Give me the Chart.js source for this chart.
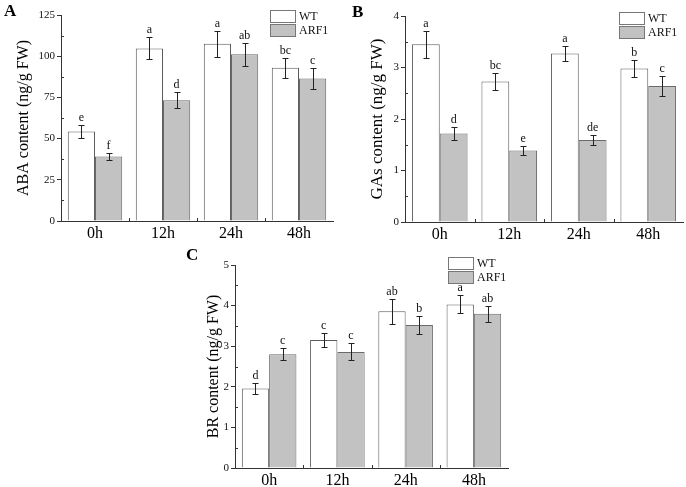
<!DOCTYPE html>
<html lang="pt-BR">
<head>
<meta charset="utf-8">
<title>Conteúdo hormonal WT x ARF1</title>
<script src="https://cdn.jsdelivr.net/npm/chart.js@4.4.1/dist/chart.umd.min.js"></script>
<style>
  body { margin: 0; background: #fff; width: 686px; height: 487px; overflow: hidden; position: relative; }
  canvas { position: absolute; }
  #graficoA { left: 0; top: 0; }
  #graficoB { left: 340px; top: 0; }
  #graficoC { left: 150px; top: 235px; }
  .painel { position: absolute; font: bold 17px "Liberation Serif", "Times New Roman", serif; color: #000; }
</style>
</head>
<body>
<canvas id="graficoA" width="340" height="245"></canvas>
<canvas id="graficoB" width="346" height="245"></canvas>
<canvas id="graficoC" width="370" height="260"></canvas>
<div class="painel" style="left:4px; top:1px;">A</div>
<div class="painel" style="left:352px; top:2px;">B</div>
<div class="painel" style="left:186px; top:245px;">C</div>
<script>
// --- DADOS ---
const horas = ['0h', '12h', '24h', '48h'];
const series = ['WT', 'ARF1'];

// ABA (ng/g FW)
const abaWT = [54.3, 104.7, 107.6, 93.0];
const abaARF1 = [39.2, 73.3, 101.2, 86.5];
const abaErroWT = [3.8, 6.7, 7.9, 6.1];
const abaErroARF1 = [2.1, 4.9, 6.9, 6.6];
const abaLetrasWT = ['e', 'a', 'a', 'bc'];
const abaLetrasARF1 = ['f', 'd', 'ab', 'c'];
const abaTicks = [0, 25, 50, 75, 100, 125];

// GAs (ng/g FW)
const gaWT = [3.45, 2.73, 3.27, 2.98];
const gaARF1 = [1.72, 1.39, 1.59, 2.64];
const gaErroWT = [0.26, 0.17, 0.15, 0.16];
const gaErroARF1 = [0.12, 0.09, 0.09, 0.19];
const gaLetrasWT = ['a', 'bc', 'a', 'b'];
const gaLetrasARF1 = ['d', 'e', 'de', 'c'];
const gaTicks = [0, 1, 2, 3, 4];

// BR (ng/g FW)
const brWT = [1.96, 3.15, 3.86, 4.03];
const brARF1 = [2.80, 2.86, 3.52, 3.80];
const brErroWT = [0.14, 0.18, 0.31, 0.22];
const brErroARF1 = [0.15, 0.21, 0.22, 0.20];
const brLetrasWT = ['d', 'c', 'ab', 'a'];
const brLetrasARF1 = ['c', 'c', 'b', 'ab'];
const brTicks = [0, 1, 2, 3, 4, 5];

const FONTE = '"Liberation Serif", "Times New Roman", serif';
const COR_EIXO = '#333';

// Barras de erro, letras de significância, ticks menores e legenda
const pluginExtras = {
  id: 'extras',
  afterDatasetsDraw(chart, args, opts) {
    const { ctx, chartArea, scales: { x, y } } = chart;
    ctx.save();
    ctx.strokeStyle = '#222';
    ctx.lineWidth = 1;
    ctx.fillStyle = '#111';
    ctx.font = '12px ' + FONTE;
    ctx.textAlign = 'center';
    ctx.textBaseline = 'bottom';
    chart.data.datasets.forEach((ds, i) => {
      chart.getDatasetMeta(i).data.forEach((barra, j) => {
        const v = ds.data[j], e = ds.erros[j];
        const yTopo = Math.round(y.getPixelForValue(v + e)) + 0.5;
        const yBase = Math.round(y.getPixelForValue(v - e)) + 0.5;
        const xc = Math.round(barra.x) + 0.5;
        ctx.beginPath();
        ctx.moveTo(xc, yTopo); ctx.lineTo(xc, yBase);
        ctx.moveTo(xc - 3, yTopo); ctx.lineTo(xc + 3, yTopo);
        ctx.moveTo(xc - 3, yBase); ctx.lineTo(xc + 3, yBase);
        ctx.stroke();
        ctx.fillText(ds.letras[j], barra.x, yTopo - 2);
      });
    });

    // ticks menores do eixo y (para dentro)
    ctx.strokeStyle = COR_EIXO;
    const passo = opts.passo / 2;
    for (let v = y.min + passo; v < y.max; v += opts.passo) {
      const py = Math.round(y.getPixelForValue(v)) + 0.5;
      ctx.beginPath();
      ctx.moveTo(chartArea.left, py); ctx.lineTo(chartArea.left + 3, py);
      ctx.stroke();
    }
    // ticks entre categorias no eixo x
    for (let i = 1; i < horas.length; i++) {
      const px = Math.round((x.getPixelForValue(i - 1) + x.getPixelForValue(i)) / 2) + 0.5;
      ctx.beginPath();
      ctx.moveTo(px, chartArea.bottom); ctx.lineTo(px, chartArea.bottom - 3);
      ctx.stroke();
    }

    // legenda
    ctx.font = '12px ' + FONTE;
    ctx.textAlign = 'left';
    ctx.textBaseline = 'middle';
    chart.data.datasets.forEach((ds, i) => {
      const lx = chartArea.right + opts.legX;
      const ly = chartArea.top + opts.legY + i * 14;
      ctx.fillStyle = ds.backgroundColor;
      ctx.fillRect(lx + 0.5, ly + 0.5, 25, 12);
      ctx.strokeStyle = '#777';
      ctx.strokeRect(lx + 0.5, ly + 0.5, 25, 12);
      ctx.fillStyle = '#111';
      ctx.fillText(ds.label, lx + 29, ly + 7);
    });
    ctx.restore();
  }
};

function criarGrafico(canvasId, cfg) {
  const ctx = document.getElementById(canvasId);
  return new Chart(ctx, {
    type: 'bar',
    data: {
      labels: horas,
      datasets: [
        { label: series[0], data: cfg.wt, erros: cfg.erroWT, letras: cfg.letrasWT,
          backgroundColor: '#ffffff', borderColor: '#5c5c5c', borderWidth: 1,
          categoryPercentage: 0.8, barPercentage: 1 },
        { label: series[1], data: cfg.arf1, erros: cfg.erroARF1, letras: cfg.letrasARF1,
          backgroundColor: '#c2c2c2', borderColor: '#6a6a6a', borderWidth: 1,
          categoryPercentage: 0.8, barPercentage: 1 }
      ]
    },
    options: {
      responsive: false,
      animation: false,
      layout: { padding: cfg.padding },
      plugins: {
        legend: { display: false },
        tooltip: { enabled: false },
        extras: { passo: cfg.ticks[1] - cfg.ticks[0], legX: cfg.legX, legY: cfg.legY }
      },
      scales: {
        x: {
          grid: { display: true, drawOnChartArea: false, drawTicks: false },
          border: { display: true, color: COR_EIXO, width: 1 },
          ticks: { color: '#000', font: { family: FONTE, size: 16 }, padding: 3 },
          afterFit: s => { s.height = cfg.alturaX; }
        },
        y: {
          min: cfg.ticks[0],
          max: cfg.ticks[cfg.ticks.length - 1],
          afterBuildTicks: s => { s.ticks = cfg.ticks.map(v => ({ value: v })); },
          grid: { drawOnChartArea: false, drawTicks: true, tickLength: 4, tickColor: COR_EIXO },
          border: { display: true, color: COR_EIXO, width: 1 },
          ticks: { color: '#111', font: { family: FONTE, size: 11 }, padding: 2 },
          title: { display: true, text: cfg.titulo, color: '#000',
                   font: { family: FONTE, size: cfg.tamTitulo }, padding: { top: cfg.padTitulo, bottom: 0 } },
          afterFit: s => { s.width = cfg.larguraY; }
        }
      }
    },
    plugins: [pluginExtras]
  });
}

criarGrafico('graficoA', {
  wt: abaWT, arf1: abaARF1, erroWT: abaErroWT, erroARF1: abaErroARF1,
  letrasWT: abaLetrasWT, letrasARF1: abaLetrasARF1, ticks: abaTicks,
  titulo: 'ABA content (ng/g FW)', tamTitulo: 16, padTitulo: 14,
  padding: { top: 15, right: 7, left: 0, bottom: 0 }, larguraY: 61, alturaX: 24,
  legX: -63, legY: -5
});

criarGrafico('graficoB', {
  wt: gaWT, arf1: gaARF1, erroWT: gaErroWT, erroARF1: gaErroARF1,
  letrasWT: gaLetrasWT, letrasARF1: gaLetrasARF1, ticks: gaTicks,
  titulo: 'GAs content (ng/g FW)', tamTitulo: 17, padTitulo: 27,
  padding: { top: 16, right: 3, left: 0, bottom: 0 }, larguraY: 65, alturaX: 23,
  legX: -64, legY: -4
});

criarGrafico('graficoC', {
  wt: brWT, arf1: brARF1, erroWT: brErroWT, erroARF1: brErroARF1,
  letrasWT: brLetrasWT, letrasARF1: brLetrasARF1, ticks: brTicks,
  titulo: 'BR content (ng/g FW)', tamTitulo: 16, padTitulo: 54,
  padding: { top: 30, right: 12, left: 0, bottom: 0 }, larguraY: 85, alturaX: 27,
  legX: -60, legY: -8
});
</script>
</body>
</html>
